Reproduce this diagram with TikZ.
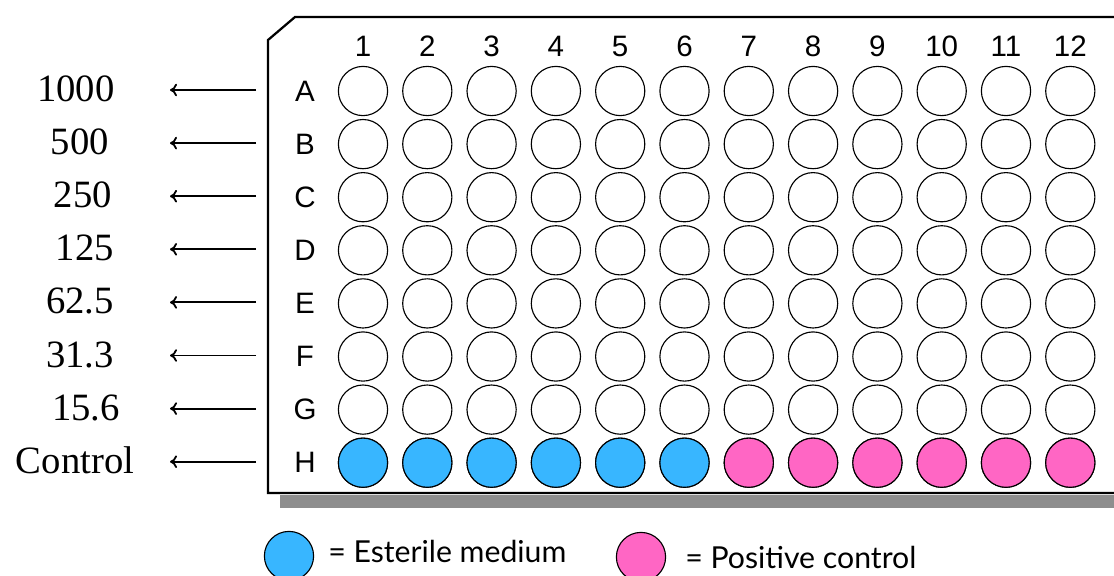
\documentclass[tikz,border=0pt]{standalone}
\usepackage{fontspec}
\setmainfont{Liberation Serif}
\setsansfont{Liberation Sans}
\newfontfamily\legendfont{Lato}
\usetikzlibrary{arrows.meta,positioning}
\definecolor{medium}{HTML}{38B6FF}
\definecolor{positive}{HTML}{FF66C4}
\definecolor{plateshadow}{HTML}{8E8E8E}

\tikzset{
  well/.style={circle,draw=black,line width=0.8pt,minimum size=35pt,inner sep=0pt},
  plate/.style={draw=black,line width=1.6pt,fill=white},
  idx/.style={font=\sffamily\fontsize{21}{23}\selectfont},
  conc/.style={font=\fontsize{27.5}{30}\selectfont},
  legtext/.style={font=\legendfont\fontsize{21.5}{24}\selectfont,anchor=west,inner sep=0pt}
}

\begin{document}
\begin{tikzpicture}[x=0.025cm,y=-0.025cm]
\def\xa{363} \def\dx{64.3} \def\ya{91} \def\dy{53.1}
\clip (0,0) rectangle (1114,575);
% plate with shadow
\draw[plate] (1130,493) -- (268,493) -- (268,40) -- (295,17) -- (1130,17);
\fill[plateshadow] (280,494.5) rectangle (1130,507.5);
% column numbers
\foreach \c in {1,...,12}
  \node[idx] (col\c) at ({\xa+(\c-1)*\dx},46) {\c};
% rows: letters, wells, concentrations and arrows
\foreach \r/\val/\lx [count=\i from 0] in {A/1000/76,B/500/80,C/250/83,D/125/85,E/62.5/80,F/31.3/80,G/15.6/86,H/Control/75} {
  \node[idx] (row\r) at (305,{\ya+\i*\dy}) {\r};
  \node[conc] (conc\r) at (\lx,{\ya+\i*\dy-2}) {\val};
  \coordinate (tail\r) at (256,{\ya+\i*\dy-1});
  \coordinate (tip\r) at (170,{\ya+\i*\dy-1});
  \draw[-{To[length=5pt,width=9pt]},line width=1.3pt] (tail\r) -- (tip\r);
  \foreach \c in {1,...,12}
    \node[well] (w\r\c) at ({\xa+(\c-1)*\dx},{\ya+\i*\dy}) {};
}
% control row
\foreach \c in {1,...,6}
  \node[well,fill=medium] at (wH\c) {};
\foreach \c in {7,...,12}
  \node[well,fill=positive] at (wH\c) {};
% legend
\node[well,fill=medium] (legmed) at (289,556) {};
\node[legtext] (legmedtxt) at (328,551) {= Esterile medium};
\node[well,fill=positive] (legpos) at (641,557) {};
\node[legtext] (legpostxt) at (685,557) {= Positive control};
\end{tikzpicture}
\end{document}
